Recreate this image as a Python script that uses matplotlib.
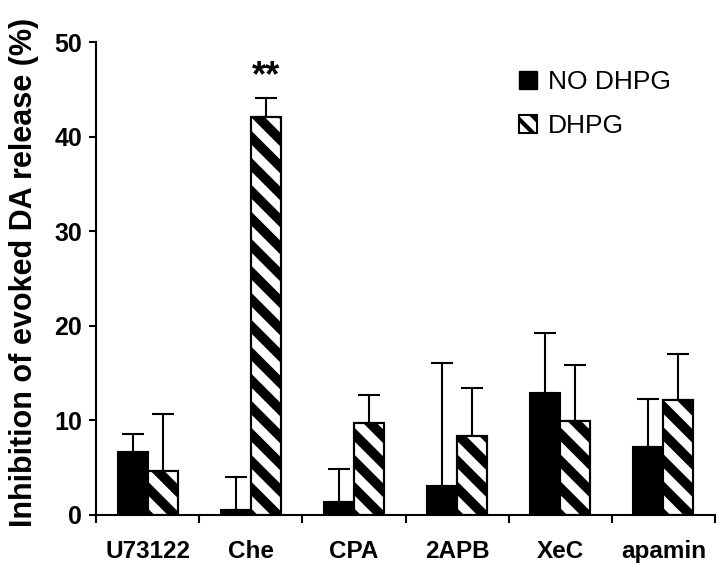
import matplotlib
matplotlib.use("Agg")
import matplotlib.pyplot as plt
import numpy as np
from matplotlib.collections import LineCollection
from matplotlib.transforms import IdentityTransform
from matplotlib.patches import Patch

categories = ["U73122", "Che", "CPA", "2APB", "XeC", "apamin"]
no_dhpg = [6.7, 0.5, 1.4, 3.1, 12.9, 7.2]
no_dhpg_err = [1.9, 3.5, 3.5, 13.0, 6.3, 5.1]
dhpg = [4.7, 42.1, 9.7, 8.3, 9.9, 12.2]
dhpg_err = [6.0, 2.0, 3.0, 5.1, 6.0, 4.8]
series_names = ["NO DHPG", "DHPG"]

plt.rcParams['font.family'] = ['Liberation Sans', 'DejaVu Sans']
plt.rcParams['hatch.linewidth'] = 3.0
NARROW = ['Liberation Sans Narrow', 'Liberation Sans', 'DejaVu Sans']

fig = plt.figure(figsize=(7.2, 5.71), dpi=100)
ax = fig.add_axes([96/720, 56/571, (715-96)/720, (515-42)/571])

x = np.arange(len(categories)) + 0.5
w = 0.29
b1 = ax.bar(x - w/2, no_dhpg, w, color='black', edgecolor='black', linewidth=1.5, zorder=2)
b2 = ax.bar(x + w/2, dhpg, w, color='white', edgecolor='black', linewidth=1.5, zorder=2)
ax.errorbar(x - w/2, no_dhpg, yerr=[np.zeros(len(x)), no_dhpg_err], fmt='none',
            ecolor='black', elinewidth=1.5, capsize=8, capthick=1.5, zorder=1)
ax.errorbar(x + w/2, dhpg, yerr=[np.zeros(len(x)), dhpg_err], fmt='none',
            ecolor='black', elinewidth=1.5, capsize=8, capthick=1.5, zorder=1)

ax.set_xlim(0, 6)
ax.set_ylim(0, 50)

# diagonal stripes clipped to DHPG bars
fig.canvas.draw()
period = 27.0
for p in b2.patches:
    bb = p.get_window_extent()
    x0, x1, y0, y1 = bb.x0, bb.x1, bb.y0, bb.y1
    segs = []
    c = y0 - period
    while c < y1 + (x1 - x0) + period:
        segs.append([(x0 - 5, c + 5), (x1 + 5, c - (x1 - x0) - 5)])
        c += period
    lc = LineCollection(segs, colors='black', linewidths=7.0,
                        transform=IdentityTransform(), zorder=2.5)
    ax.add_collection(lc, autolim=False)
    lc.set_clip_path(p.get_path(), p.get_transform())
for p in b2.patches:
    p2 = plt.Rectangle(p.get_xy(), p.get_width(), p.get_height(), fill=False,
                       edgecolor='black', linewidth=1.5, zorder=3)
    ax.add_patch(p2)

ax.set_xlim(0, 6)
ax.set_ylim(0, 50)

for s in ['top', 'right']:
    ax.spines[s].set_visible(False)
for s in ['left', 'bottom']:
    ax.spines[s].set_linewidth(1.5)

ax.set_yticks([0, 10, 20, 30, 40, 50])
ax.set_xticks(np.arange(0, 7))
ax.set_xticklabels([])
ax.tick_params(axis='y', direction='out', length=5, width=1.5, pad=5)
ax.tick_params(axis='x', direction='out', length=6, width=1.5)
for lbl in ax.get_yticklabels():
    lbl.set_fontweight('bold')
    lbl.set_fontsize(18)
    lbl.set_family(NARROW)
for xi, cat in zip(x, categories):
    ax.text(xi, -3.9, cat, ha='center', va='center', fontsize=17.5, fontweight='bold')

fig.text(24/720, 1 - 272/571, "Inhibition of evoked DA release (%)", rotation=90,
         ha='center', va='center', fontsize=22, fontweight='bold', family=NARROW)

ax.text(x[1] + w/2, 46.3, "**", ha='center', va='center', fontsize=26, fontweight='bold')

handles = [Patch(facecolor='black', edgecolor='black'),
           Patch(facecolor='white', edgecolor='black', hatch='\\\\', linewidth=1.5)]
leg = ax.legend(handles, series_names, loc='upper left', bbox_to_anchor=(0.645, 0.99),
                frameon=False, fontsize=19, handlelength=0.7, handleheight=0.7,
                handletextpad=0.4, labelspacing=0.75)

fig.savefig('out.png', dpi=100)
